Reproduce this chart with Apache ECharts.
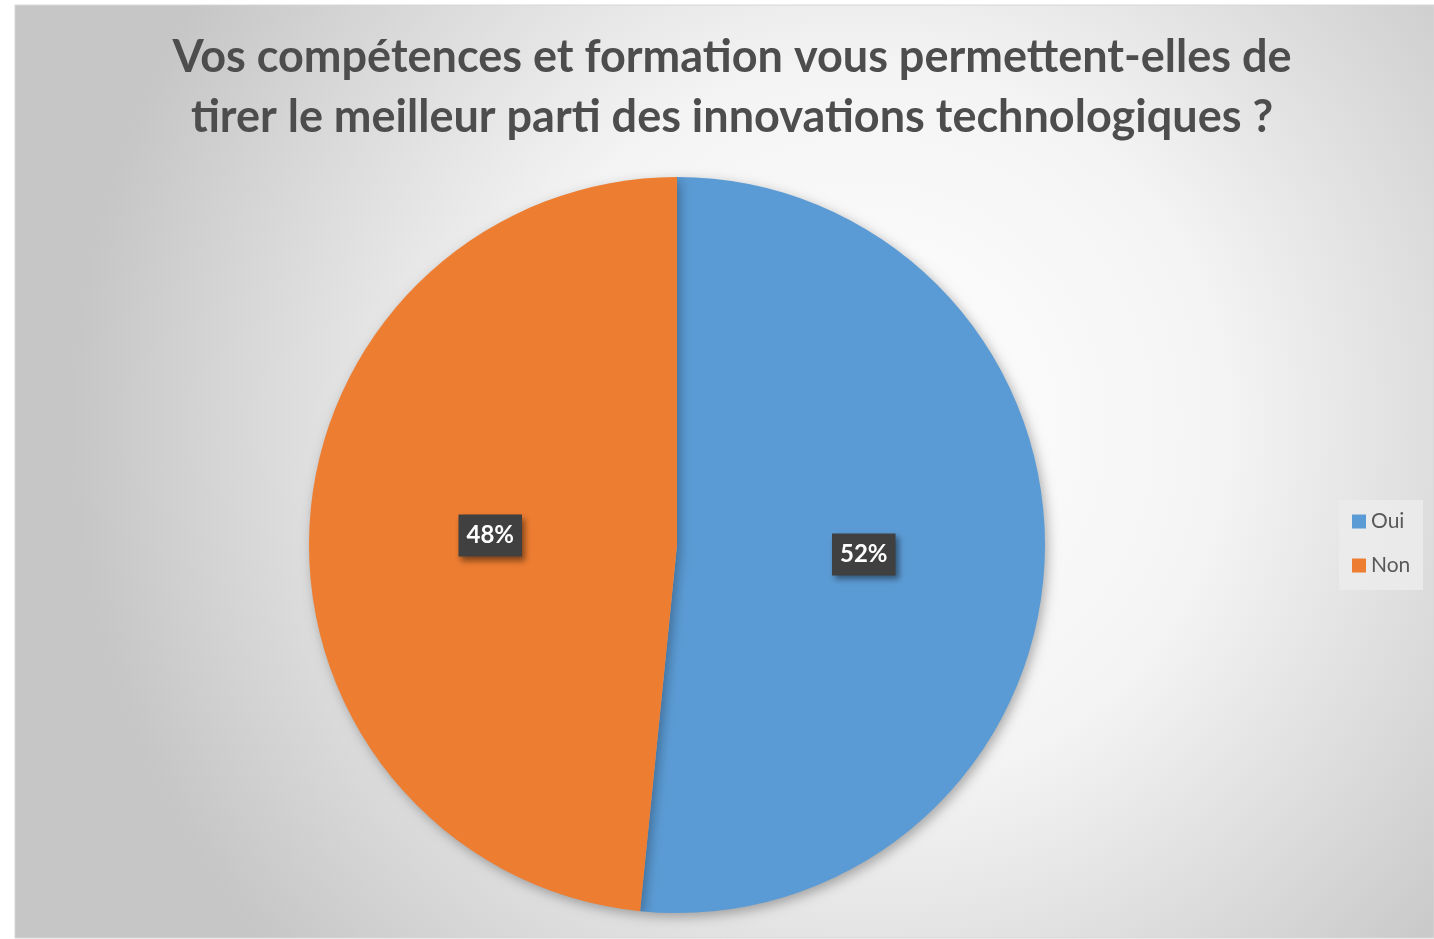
<!DOCTYPE html>
<html><head><meta charset="utf-8">
<script src="https://cdn.jsdelivr.net/npm/echarts@6/dist/echarts.min.js"></script>
<style>html,body{margin:0;padding:0;background:#fff;}#c{width:1434px;height:939px;}</style>
</head><body><div id="c"></div>
<script>
const titleLines = ["Vos compétences et formation vous permettent-elles de", "tirer le meilleur parti des innovations technologiques ?"];
const categories = ["Oui", "Non"];
const values = [51.6, 48.4];
const colors = ["#5B9BD5", "#ED7D31"];

const chart = echarts.init(document.getElementById('c'), null, {renderer: 'canvas'});
const total = values.reduce((a, b) => a + b, 0);
chart.setOption({
  animation: false,
  graphic: [
    {type: 'rect', z: -10, shape: {x: 15, y: 5, width: 1419, height: 933},
     style: {fill: new echarts.graphic.RadialGradient(0.6, 0.45, 0.85, [
       {offset: 0, color: '#ffffff'}, {offset: 0.45, color: '#f4f4f4'}, {offset: 1, color: '#c6c6c6'}]),
       stroke: '#d6d6d6', lineWidth: 1}},
    {type: 'rect', z: -5, shape: {x: 1339, y: 500, width: 84, height: 90},
     style: {fill: 'rgba(235,235,235,0.9)'}}
  ],
  title: {
    text: titleLines.join('\n'), left: 727, top: 22, textAlign: 'center',
    textStyle: {fontFamily: 'Lato', fontWeight: 'bold', fontSize: 45, lineHeight: 60, color: '#4d4d4d'}
  },
  legend: {
    orient: 'vertical', left: 1347, top: 506, itemWidth: 14, itemHeight: 14, itemGap: 23,
    icon: 'rect', data: categories,
    textStyle: {fontFamily: 'Lato', fontSize: 21, color: '#595959'}
  },
  series: [{
    type: 'pie', center: [677, 545], radius: 368, startAngle: 90, clockwise: true,
    data: categories.map((n, i) => ({name: n, value: values[i], itemStyle: {color: colors[i]}})),
    itemStyle: {shadowBlur: 12, shadowOffsetX: 3, shadowOffsetY: 4, shadowColor: 'rgba(0,0,0,0.3)'},
    label: {
      position: 'inside',
      formatter: p => Math.round(p.value / total * 100) + '%',
      fontFamily: 'Lato', fontWeight: 'bold', fontSize: 24, color: '#ffffff',
      backgroundColor: '#404040', padding: [9, 8, 9, 8],
      shadowBlur: 6, shadowOffsetX: 3, shadowOffsetY: 4, shadowColor: 'rgba(0,0,0,0.45)'
    },
    labelLine: {show: false},
    emphasis: {disabled: true}
  }]
});
</script></body></html>
